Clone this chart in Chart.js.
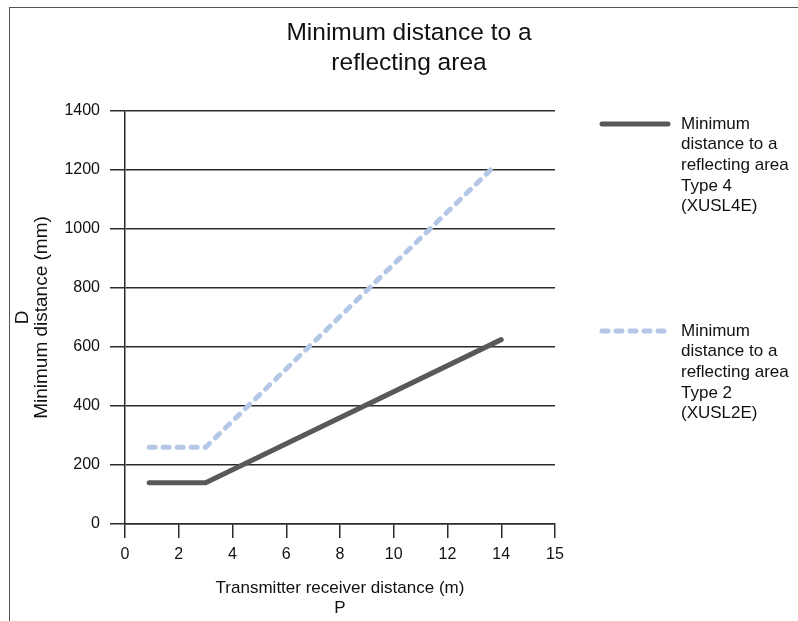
<!DOCTYPE html>
<html>
<head>
<meta charset="utf-8">
<script src="https://cdn.jsdelivr.net/npm/chart.js@4.4.1/dist/chart.umd.min.js"></script>
<style>
  html, body { margin: 0; padding: 0; background: #fff; }
  #frame { position: absolute; left: 9px; top: 7px; right: -5px; bottom: -5px; border-top: 1.5px solid #555; border-left: 1.5px solid #555; }
  #wrap { position: absolute; left: 0; top: 0; width: 798px; height: 621px; }
</style>
</head>
<body>
<div id="frame"></div>
<div id="wrap"><canvas id="chart"></canvas></div>
<script>
// values
const type4X = [0.9, 3, 14];
const type4Y = [140, 140, 625];
const type2X = [0.9, 3, 13.6];
const type2Y = [260, 260, 1200];
const xTickLabels = ["0", "2", "4", "6", "8", "10", "12", "14", "15"];
const type4Label = ["Minimum", "distance to a", "reflecting area", "Type 4", "(XUSL4E)"];
const type2Label = ["Minimum", "distance to a", "reflecting area", "Type 2", "(XUSL2E)"];

const FONT = "'Liberation Sans', Arial, sans-serif";
const GRID = "#2b2b2b";

function points(xs, ys) {
  return xs.map((x, i) => ({ x, y: ys[i] }));
}

// legend drawn at the right, with the wrapped labels of the reference
const sideLegend = {
  id: "sideLegend",
  afterDraw(chart, args, opts) {
    const ctx = chart.ctx;
    chart.data.datasets.forEach((ds, i) => {
      const y = opts.tops[i];
      ctx.save();
      ctx.strokeStyle = ds.borderColor;
      ctx.lineWidth = ds.borderWidth;
      ctx.lineCap = "round";
      ctx.setLineDash(ds.borderDash || []);
      ctx.beginPath();
      ctx.moveTo(opts.lineX0, y);
      ctx.lineTo(opts.lineX1, y);
      ctx.stroke();
      ctx.setLineDash([]);
      ctx.fillStyle = "#111";
      ctx.font = opts.font;
      ctx.textBaseline = "middle";
      ds.label.forEach((line, j) => ctx.fillText(line, opts.textX, y + j * opts.lineHeight));
      ctx.restore();
    });
  },
};

new Chart(document.getElementById("chart"), {
  type: "line",
  data: {
    datasets: [
      {
        label: type4Label,
        data: points(type4X, type4Y),
        borderColor: "#595959",
        borderWidth: 5,
        borderCapStyle: "round",
        pointRadius: 0,
      },
      {
        label: type2Label,
        data: points(type2X, type2Y),
        borderColor: "#b4c7e7",
        borderWidth: 5,
        borderDash: [6, 8],
        borderCapStyle: "round",
        pointRadius: 0,
      },
    ],
  },
  options: {
    responsive: true,
    maintainAspectRatio: false,
    animation: false,
    layout: { padding: { left: 20, right: 0, top: 0, bottom: 0 } },
    plugins: {
      legend: { display: false },
      tooltip: { enabled: false },
      title: {
        display: true,
        text: ["Minimum distance to a", "reflecting area"],
        color: "#111",
        font: { family: FONT, size: 24.5, weight: "normal", lineHeight: 30 / 24.5 },
        padding: { top: 18, bottom: 33 },
      },
      sideLegend: {
        tops: [124, 331],
        lineX0: 602,
        lineX1: 668,
        textX: 681,
        lineHeight: 20.7,
        font: "17px " + FONT,
      },
    },
    scales: {
      x: {
        type: "linear",
        min: 0,
        max: 16,
        afterFit: (scale) => { scale.height = 97; },
        afterBuildTicks: (scale) => {
          scale.ticks = xTickLabels.map((_, i) => ({ value: i * 2 }));
        },
        ticks: {
          color: "#111",
          padding: 7,
          maxRotation: 0,
          font: { family: FONT, size: 16 },
          callback: (value, index) => xTickLabels[index],
        },
        grid: { drawOnChartArea: false, drawTicks: true, tickLength: 14, color: GRID, lineWidth: 1.5 },
        border: { display: true, color: GRID, width: 1.5 },
        title: {
          display: true,
          text: ["Transmitter receiver distance (m)", "P"],
          color: "#111",
          font: { family: FONT, size: 17, lineHeight: 20 / 17 },
          padding: { top: 0, bottom: 3 },
        },
      },
      y: {
        min: 0,
        max: 1400,
        afterFit: (scale) => { scale.width = 105; },
        ticks: {
          stepSize: 200,
          color: "#111",
          padding: 10,
          font: { family: FONT, size: 16 },
          callback: (value) => String(value),
        },
        grid: { color: GRID, lineWidth: 1.5, tickLength: 15 },
        border: { display: true, color: GRID, width: 1.5 },
        title: {
          display: true,
          text: ["D", "Minimum distance (mm)"],
          color: "#111",
          font: { family: FONT, size: 19, lineHeight: 1 },
          padding: { top: -6.5, bottom: 0 },
        },
      },
      // empty scale on the right keeps room for the legend
      legendSpace: {
        type: "linear",
        position: "right",
        afterFit: (scale) => { scale.width = 243; },
        ticks: { display: false },
        grid: { display: false },
        border: { display: false },
      },
    },
  },
  plugins: [sideLegend],
});
</script>
</body>
</html>
